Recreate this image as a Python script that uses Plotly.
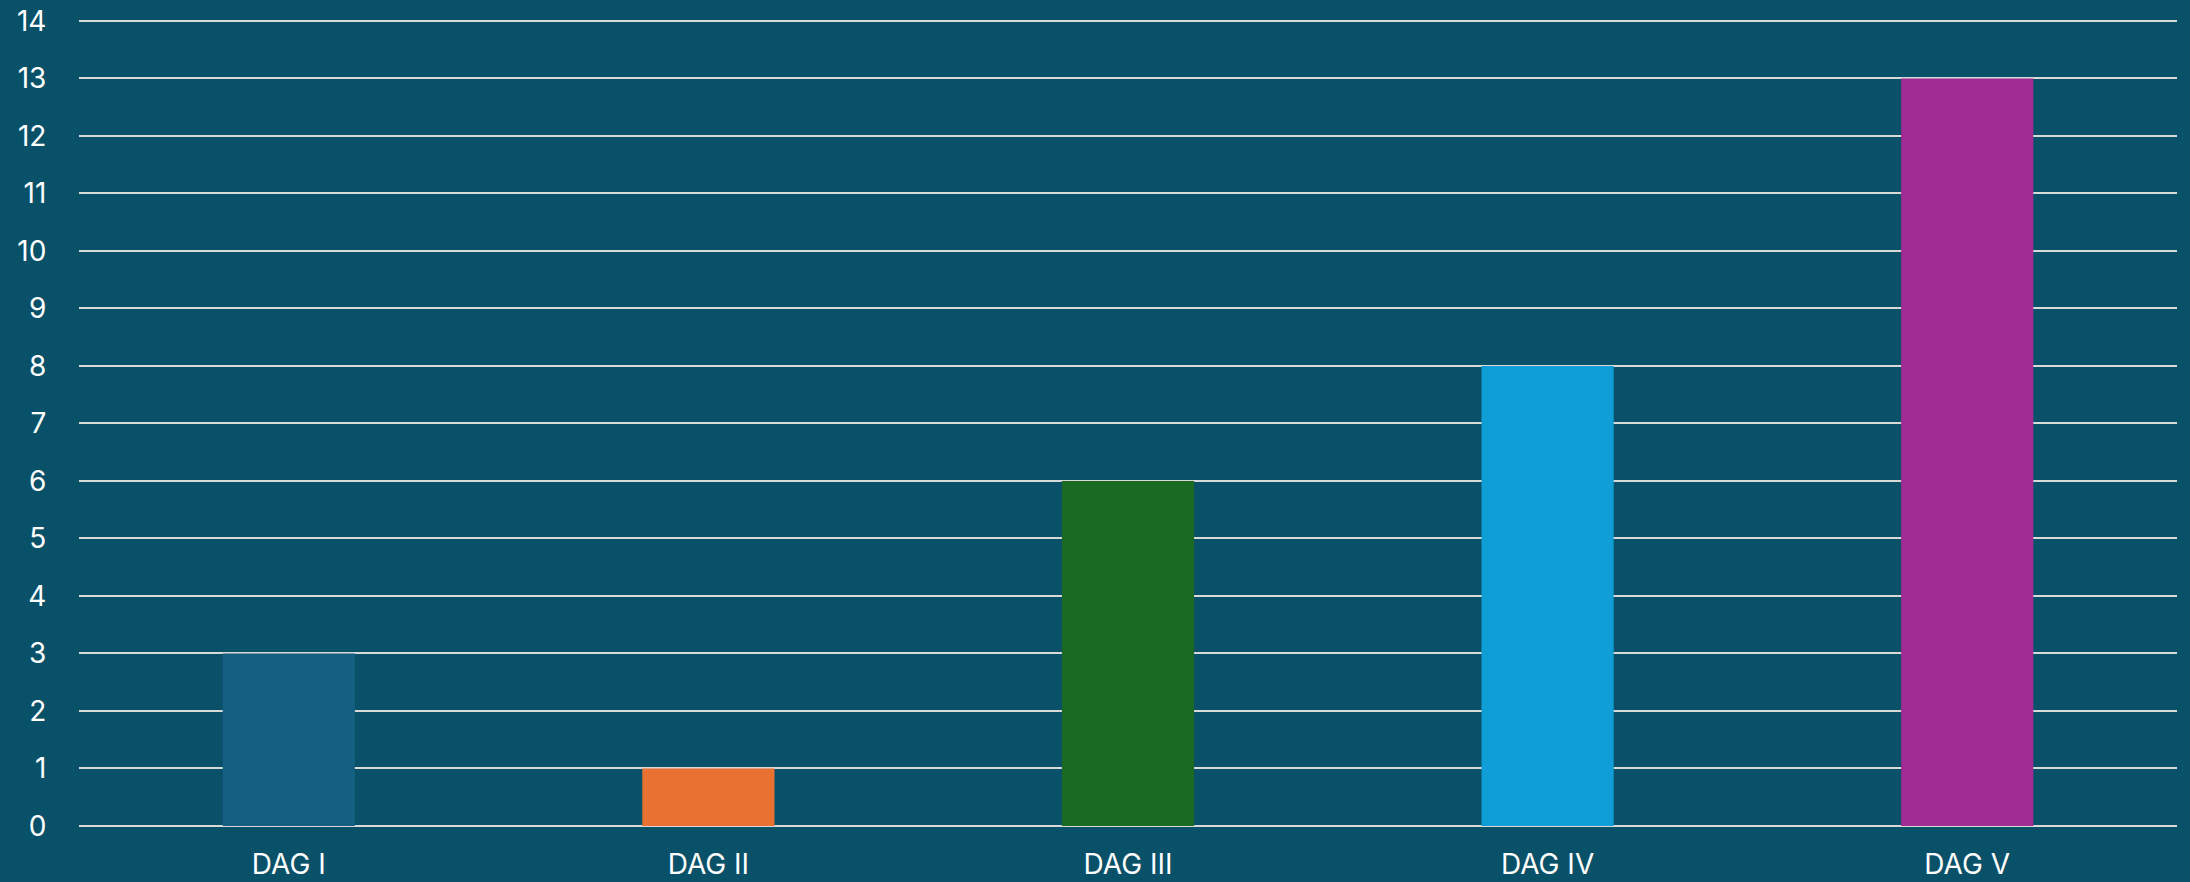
import plotly.graph_objects as go

categories = ["DAG I", "DAG II", "DAG III", "DAG IV", "DAG V"]
values = [3, 1, 6, 8, 13]
colors = ["#156082", "#e97132", "#196b24", "#0f9ed5", "#a02b93"]
y_ticks = list(range(0, 15))

fig = go.Figure(go.Bar(x=categories, y=values, marker=dict(color=colors, line=dict(width=0)),
                       width=0.315))

fig.update_layout(
    width=2190, height=882,
    paper_bgcolor="#095069", plot_bgcolor="#095069",
    margin=dict(l=79, r=13, t=18, b=56, autoexpand=False),
    font=dict(family="Inter, Roboto, sans-serif", size=28, color="#ffffff"),
    showlegend=False,
    xaxis=dict(showgrid=False, zeroline=False, showline=False, ticks="outside",
               ticklen=13, tickcolor="rgba(0,0,0,0)", automargin=False,
               tickfont=dict(size=28, color="#ffffff")),
    yaxis=dict(range=[0, 14.05], tickvals=y_ticks, showgrid=True, gridcolor="#d9d9d9",
               gridwidth=2, zeroline=True, zerolinecolor="#d9d9d9", zerolinewidth=2,
               showline=False, ticks="outside", ticklen=26, tickcolor="rgba(0,0,0,0)",
               automargin=False, tickfont=dict(size=28, color="#ffffff")),
)

fig.write_html("out.html", config={"displayModeBar": False},
               post_script="document.body.style.margin='0';document.body.style.overflow='hidden';")
